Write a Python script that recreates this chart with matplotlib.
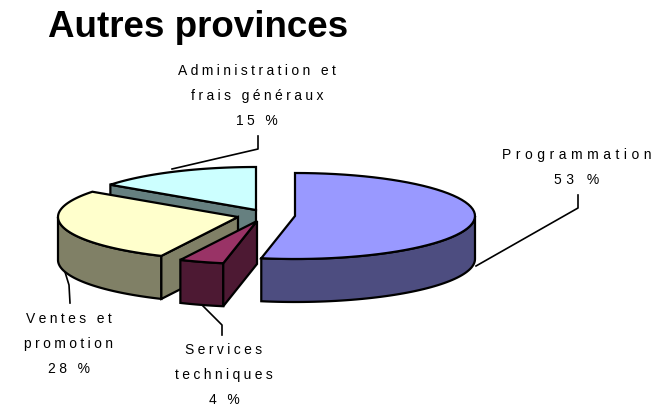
import numpy as np
import matplotlib
matplotlib.use("Agg")
import matplotlib.pyplot as plt

plt.rcParams["font.family"] = ["Liberation Sans", "DejaVu Sans"]

# parts, clockwise from 12 o'clock
categories = ["Programmation", "Services techniques", "Ventes et promotion", "Administration et frais généraux"]
values = [53, 4, 28, 15]
value_labels = ["53 %", "4 %", "28 %", "15 %"]

top_colors = ["#9999FF", "#993366", "#FFFFCC", "#CCFFFF"]
side_colors = ["#4D4D80", "#4D1933", "#808066", "#668080"]
apex = [(295, 216), (257, 221), (238, 217), (256, 210)]

RX, RY, DEPTH = 180, 43, 43


def espacer(texte, n=3):
    """Letter spacing with hair spaces."""
    return ("\u200a" * n).join(texte)


def arc(c, a0, a1, dy=0):
    t = np.radians(np.linspace(a0, a1, 60))
    return c[0] + RX * np.cos(t), c[1] - RY * np.sin(t) + dy


def part(ax, c, a0, a1, top, side, z):
    # a0 > a1, going clockwise
    # outer wall, only the part that faces the viewer
    w0, w1 = min(a0, 0), max(a1, -180)
    if w0 > w1:
        x, y = arc(c, w0, w1)
        ax.fill(np.r_[x, x[::-1]], np.r_[y, y[::-1] + DEPTH], fc=side, ec="k", lw=1.6, zorder=z)
    # cut wall on the side that faces the viewer
    if a0 < 0 or a0 > 90:
        px = c[0] + RX * np.cos(np.radians(a0))
        py = c[1] - RY * np.sin(np.radians(a0))
        ax.fill([c[0], px, px, c[0]], [c[1], py, py + DEPTH, c[1] + DEPTH], fc=side, ec="k", lw=1.6, zorder=z)
    x, y = arc(c, a0, a1)
    ax.fill(np.r_[c[0], x], np.r_[c[1], y], fc=top, ec="k", lw=1.6, zorder=z + 0.5)


def main():
    fig = plt.figure(figsize=(6.59, 4.13), dpi=100)
    ax = fig.add_axes([0, 0, 1, 1])
    ax.set_xlim(0, 659)
    ax.set_ylim(413, 0)
    ax.axis("off")

    # angles from the values
    fin = 90 - np.cumsum(values) * 3.6
    debut = np.r_[90, fin[:-1]]
    ordre = [3, 0, 2, 1]
    for z, i in enumerate(ordre):
        part(ax, apex[i], debut[i], fin[i], top_colors[i], side_colors[i], 2 + z)

    # leader lines
    ax.plot([258, 258, 172], [136, 149, 169], color="k", lw=1.2, zorder=1)
    ax.plot([578, 578, 476], [195, 208, 266], color="k", lw=1.2, zorder=1)
    ax.plot([65, 69, 70], [272, 285, 303], color="k", lw=1.2, zorder=1)
    ax.plot([203, 222, 222], [306, 325, 335], color="k", lw=1.2, zorder=1)

    ax.text(48, 37, "Autres provinces", fontsize=26.5, fontweight="bold", ha="left", va="baseline")

    etiquettes = [
        (577, 168, "Programmation", value_labels[0], 4),
        (224, 375, "Services\ntechniques", value_labels[1], 3),
        (69, 344, "Ventes et\npromotion", value_labels[2], 3),
        (257, 96, "Administration et\nfrais généraux", value_labels[3], 3),
    ]
    for x, y, nom, val, n in etiquettes:
        lignes = [espacer(l, n) for l in nom.split("\n")] + [espacer(val, n)]
        ax.text(x, y, "\n".join(lignes), fontsize=10, ha="center", va="center",
                multialignment="center", linespacing=2.0)

    fig.savefig("out.png", dpi=100)


if __name__ == "__main__":
    main()
